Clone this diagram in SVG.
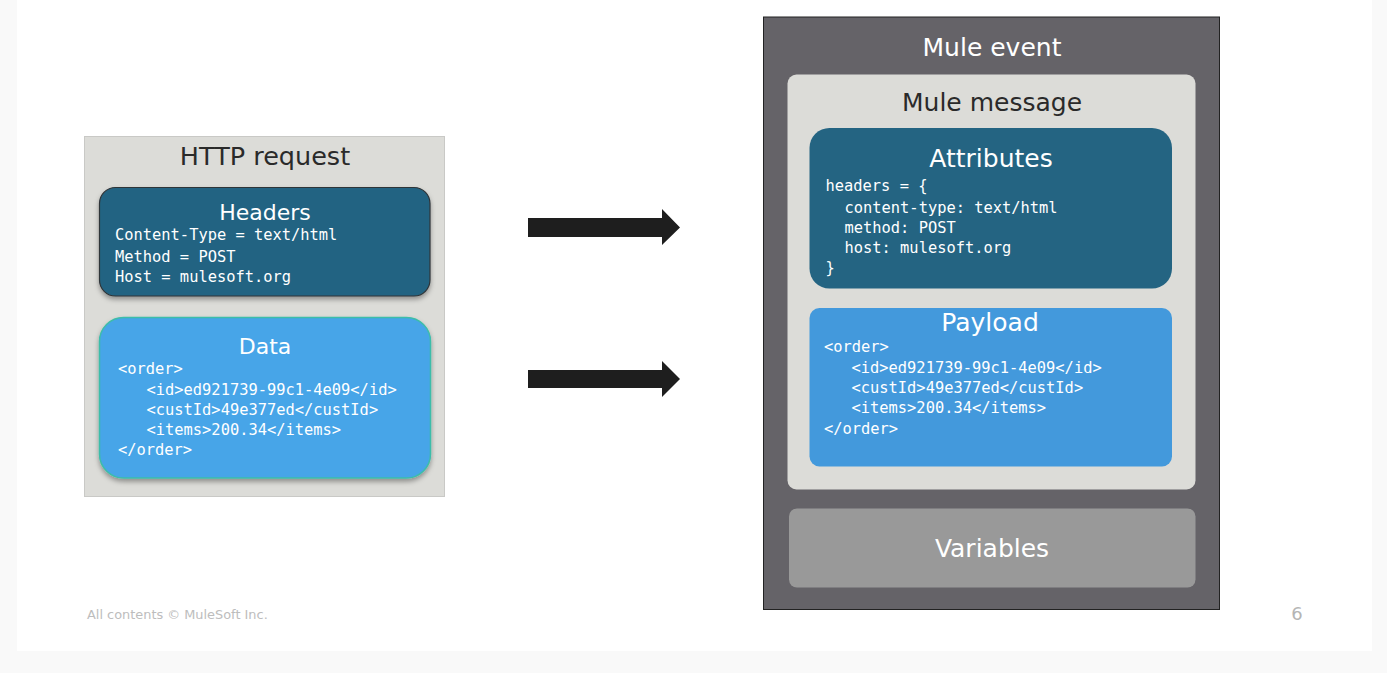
<svg xmlns="http://www.w3.org/2000/svg" width="1387" height="673" viewBox="0 0 1387 673">
<defs>
<filter id="sh" x="-10%" y="-10%" width="120%" height="130%">
<feDropShadow dx="0" dy="3" stdDeviation="2.5" flood-color="#000" flood-opacity="0.35"/>
</filter>
<style>
.title{font-family:"DejaVu Sans","Liberation Sans",sans-serif;font-size:24px;text-anchor:middle}
.mono{font-family:"DejaVu Sans Mono","Liberation Mono",monospace;font-size:15.4px;fill:#ffffff}
.w{fill:#ffffff}
.d{fill:#2a2a2a}
.arrow{fill:#1e1e1e}
</style>
</defs>
<rect x="0" y="0" width="1387" height="673" fill="#f9f9f9"/>
<rect x="17" y="0" width="1355" height="651" fill="#ffffff"/>

<g id="http-request">
<rect x="84.5" y="136.5" width="360" height="360" fill="#dcdcd8" stroke="#c9c9c6" stroke-width="1"/>
<text class="title d" x="265" y="165" style="font-size:25.5px">HTTP request</text>
</g>

<g id="headers">
<rect x="99.5" y="187.5" width="330.5" height="108.5" rx="16" fill="#246482" stroke="#2e3438" stroke-width="1.2" filter="url(#sh)"/>
<text class="title w" x="265" y="220" style="font-size:22px">Headers</text>
<text class="mono" x="115" y="240">Content-Type = text/html</text>
<text class="mono" x="115" y="261.5">Method = POST</text>
<text class="mono" x="115" y="282">Host = mulesoft.org</text>
</g>

<g id="data">
<rect x="99.5" y="317.5" width="331" height="160.5" rx="24" fill="#46a5e8" stroke="#3dbda9" stroke-width="1.5" filter="url(#sh)"/>
<text class="title w" x="265" y="353.5" style="font-size:22px">Data</text>
<text class="mono" x="118" y="374">&lt;order&gt;</text>
<text class="mono" x="146.5" y="394.5">&lt;id&gt;ed921739-99c1-4e09&lt;/id&gt;</text>
<text class="mono" x="146.5" y="414.5">&lt;custId&gt;49e377ed&lt;/custId&gt;</text>
<text class="mono" x="146.5" y="434.5">&lt;items&gt;200.34&lt;/items&gt;</text>
<text class="mono" x="118" y="455">&lt;/order&gt;</text>
</g>

<g id="connectors">
<polygon class="arrow" points="528,218 662,218 662,209 680,227.5 662,245 662,237 528,237"/>
<polygon class="arrow" points="528,370 662,370 662,361 680,379 662,397 662,388 528,388"/>
</g>

<g id="mule-event">
<rect x="763.5" y="17" width="456" height="592.5" fill="#656368" stroke="#222222" stroke-width="1"/>
<text class="title w" x="992" y="55.5" style="font-size:25px">Mule event</text>
</g>

<g id="mule-message">
<rect x="787.5" y="74.5" width="408" height="415" rx="9" fill="#dcdcd8"/>
<text class="title d" x="992" y="110.5" style="font-size:25px">Mule message</text>
</g>

<g id="attributes">
<rect x="809.5" y="128" width="362.5" height="160.5" rx="20" fill="#246482"/>
<text class="title w" x="991" y="166.5" style="font-size:25px">Attributes</text>
<text class="mono" x="825.5" y="191">headers = {</text>
<text class="mono" x="844.5" y="212.5">content-type: text/html</text>
<text class="mono" x="844.5" y="232.5">method: POST</text>
<text class="mono" x="844.5" y="252.5">host: mulesoft.org</text>
<text class="mono" x="825.5" y="272.5">}</text>
</g>

<g id="payload">
<rect x="809.5" y="308" width="362.5" height="158.5" rx="10" fill="#4399dc"/>
<text class="title w" x="990" y="330.5" style="font-size:25px">Payload</text>
<text class="mono" x="824" y="352">&lt;order&gt;</text>
<text class="mono" x="851.5" y="372.5">&lt;id&gt;ed921739-99c1-4e09&lt;/id&gt;</text>
<text class="mono" x="851.5" y="392.5">&lt;custId&gt;49e377ed&lt;/custId&gt;</text>
<text class="mono" x="851.5" y="412.5">&lt;items&gt;200.34&lt;/items&gt;</text>
<text class="mono" x="824" y="433.5">&lt;/order&gt;</text>
</g>

<g id="variables">
<rect x="789" y="508.5" width="406.5" height="79" rx="8" fill="#999999"/>
<text class="title w" x="992" y="556.5" style="font-size:25px">Variables</text>
</g>

<g id="footer">
<text x="87" y="619" style="font-family:'DejaVu Sans','Liberation Sans',sans-serif;font-size:12.9px;fill:#bdbdbd">All contents © MuleSoft Inc.</text>
<text x="1297" y="620" style="font-family:'DejaVu Sans','Liberation Sans',sans-serif;font-size:18px;fill:#b5b5b5;text-anchor:middle">6</text>
</g>
</svg>
